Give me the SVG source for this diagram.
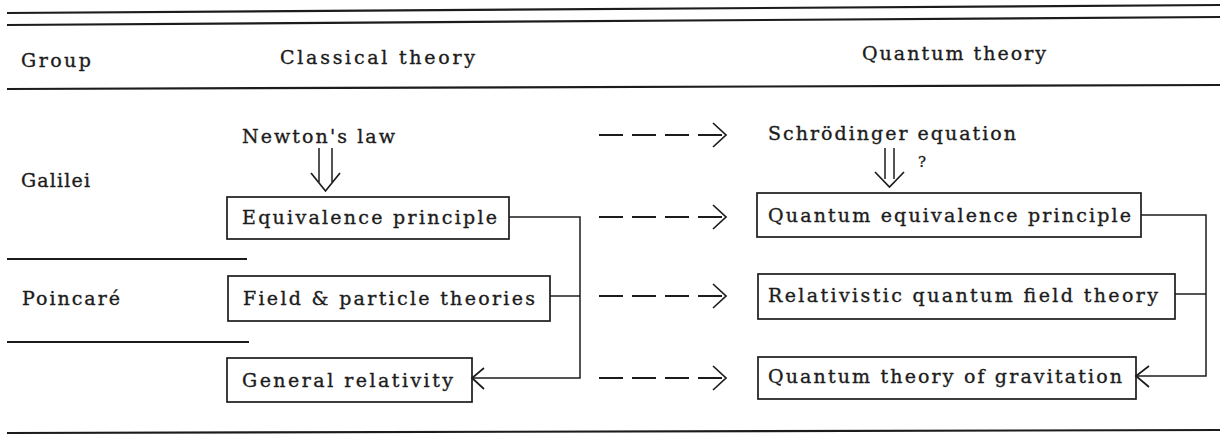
<svg xmlns="http://www.w3.org/2000/svg" width="1220" height="436" viewBox="0 0 1220 436">
<style>
  text { font-family: "DejaVu Serif", "Liberation Serif", serif; font-size: 19px; fill: #1c1c1c; stroke: #1c1c1c; stroke-width: 0.35; }
  .q { font-size: 15px; }
  .rule { stroke: #1c1c1c; stroke-width: 2.2; fill: none; }
  .box { fill: #ffffff; stroke: #1c1c1c; stroke-width: 1.7; }
  .conn { stroke: #1c1c1c; stroke-width: 1.5; fill: none; }
  .dash { stroke: #1c1c1c; stroke-width: 1.8; fill: none; stroke-dasharray: 24 9; }
  .head { stroke: #1c1c1c; stroke-width: 1.7; fill: none; stroke-linejoin: miter; }
</style>
<rect width="1220" height="436" fill="#ffffff"/>

<g id="table-rules">
  <line class="rule" x1="7" y1="13" x2="1220" y2="5"/>
  <line class="rule" x1="7" y1="25" x2="1220" y2="17"/>
  <line class="rule" x1="7" y1="89" x2="1220" y2="85"/>
  <line class="rule" x1="7" y1="259" x2="247" y2="259"/>
  <line class="rule" x1="7" y1="342" x2="249" y2="342"/>
  <line class="rule" x1="7" y1="433" x2="1220" y2="430"/>
</g>

<g id="headers">
  <text x="21" y="67" textLength="70">Group</text>
  <text x="280" y="64" textLength="195">Classical theory</text>
  <text x="862" y="60" textLength="184">Quantum theory</text>
</g>

<g id="groups">
  <text x="21" y="187" textLength="69">Galilei</text>
  <text x="22" y="305" textLength="98">Poincaré</text>
</g>

<g id="newton">
  <text x="242" y="143" textLength="153">Newton's law</text>
</g>
<g id="schroedinger">
  <text x="768" y="140" textLength="248">Schrödinger equation</text>
  <text class="q" x="918" y="167">?</text>
</g>

<g id="equivalence">
  <rect class="box" x="227" y="197" width="282" height="42"/>
  <text x="242" y="224" textLength="255">Equivalence principle</text>
</g>
<g id="field">
  <rect class="box" x="228" y="276" width="322" height="45"/>
  <text x="243" y="305" textLength="292">Field &amp; particle theories</text>
</g>
<g id="general">
  <rect class="box" x="227" y="358" width="245" height="44"/>
  <text x="242" y="387" textLength="211">General relativity</text>
</g>
<g id="q-equivalence">
  <rect class="box" x="757" y="193" width="384" height="44"/>
  <text x="768" y="222" textLength="363">Quantum equivalence principle</text>
</g>
<g id="rel-qft">
  <rect class="box" x="758" y="274" width="417" height="45"/>
  <text x="768" y="302" textLength="390">Relativistic quantum field theory</text>
</g>
<g id="q-gravitation">
  <rect class="box" x="758" y="357" width="378" height="42"/>
  <text x="768" y="383" textLength="354">Quantum theory of gravitation</text>
</g>

<g id="connectors">
  <!-- double arrows -->
  <path class="conn" d="M319,148 V182 M332,148 V182"/>
  <path class="head" d="M311,173 L325.5,191 L340,173"/>
  <path class="conn" d="M885,148 V179 M894,148 V179"/>
  <path class="head" d="M875,172 L889.5,187 L904,172"/>
  <!-- left bracket -->
  <path class="conn" d="M509,217 H580 V378 H473"/>
  <path class="conn" d="M550,296 H580"/>
  <path class="head" d="M484,368 L472,378 L484,389"/>
  <!-- right bracket -->
  <path class="conn" d="M1141,215 H1206 V376 H1137"/>
  <path class="conn" d="M1175,294 H1206"/>
  <path class="head" d="M1149,366 L1136,376 L1149,387"/>
  <!-- dashed correspondence arrows -->
  <path class="dash" d="M599,135 H725"/>
  <path class="head" d="M713,123 L726,135 L713,147"/>
  <path class="dash" d="M599,217 H725"/>
  <path class="head" d="M713,205 L726,217 L713,229"/>
  <path class="dash" d="M599,296 H725"/>
  <path class="head" d="M713,284 L726,296 L713,308"/>
  <path class="dash" d="M599,378 H725"/>
  <path class="head" d="M713,366 L726,378 L713,390"/>
</g>
</svg>
